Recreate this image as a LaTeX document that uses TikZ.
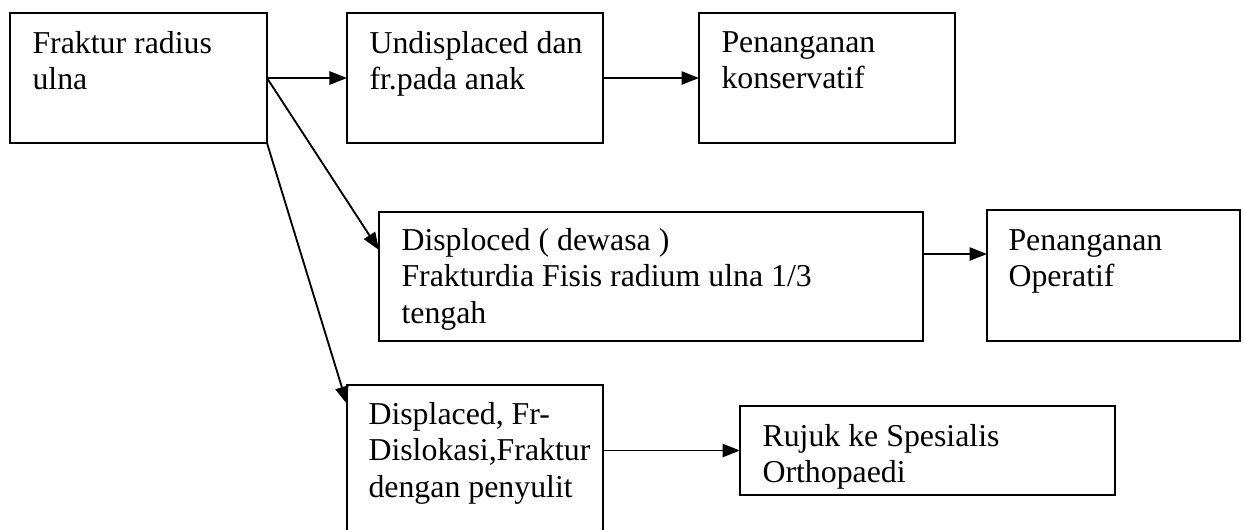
\documentclass[tikz,border=0pt]{standalone}
\usepackage{fontspec}
\setmainfont{Liberation Serif}
\usepackage{xcolor}
\definecolor{cLine}{HTML}{000000}
\usepackage{tikz}
\usetikzlibrary{positioning,arrows.meta,calc}
\tikzset{
  node-frame/.style={draw=cLine,line width=0.7pt,rectangle,inner sep=0pt,outer sep=0pt},
  node-size/.style 2 args={minimum width=#1*0.377pt,minimum height=#2*0.377pt},
  node-text/.style={anchor=north west,align=left,inner sep=0pt,
    font=\fontsize{12}{13.7}\selectfont},
  arrow/.style={-{Triangle[length=6.6pt,width=5pt]},line width=0.7pt,draw=cLine},
}

\begin{document}
\begin{tikzpicture}[x=0.377pt,y=-0.377pt]
  \clip (0,0) rectangle (1243,529);
  % kotak
  \node[node-frame,node-size={257}{130}] (fr)  at (138.5,78)  {};
  \node[node-frame,node-size={256}{130}] (und) at (475,78)    {};
  \node[node-frame,node-size={256}{130}] (kon) at (827,78)    {};
  \node[node-frame,node-size={544}{129}] (dis) at (651,276.5) {};
  \node[node-frame,node-size={253}{131}] (ope) at (1113.5,275.5) {};
  \node[node-frame,node-size={256}{180}] (dpl) at (475,475)   {};
  \node[node-frame,node-size={375}{89}]  (ruj) at (927.5,450.5) {};
  % teks
  \node[node-text] (fr-t)  at ($(fr.north west)+(22,18)$)  {Fraktur radius\\ulna};
  \node[node-text] (und-t) at ($(und.north west)+(22,18)$) {Undisplaced dan\\fr.pada anak};
  \node[node-text] (kon-t) at ($(kon.north west)+(22,18)$) {Penanganan\\konservatif};
  \node[node-text] (dis-t) at ($(dis.north west)+(22,16)$) {Disploced ( dewasa )\\Frakturdia Fisis radium ulna 1/3\\tengah};
  \node[node-text] (ope-t) at ($(ope.north west)+(21,19)$) {Penanganan\\Operatif};
  \node[node-text] (dpl-t) at ($(dpl.north west)+(21,17)$) {Displaced, Fr-\\Dislokasi,Fraktur\\dengan penyulit};
  \node[node-text] (ruj-t) at ($(ruj.north west)+(22,18)$) {Rujuk ke Spesialis\\Orthopaedi};
  % panah
  \draw[arrow] (fr.east) -- (und.west);
  \draw[arrow] (und.east) -- (kon.west);
  \draw[arrow] (fr.east) -- ($(dis.north west)+(0,38)$);
  \draw[arrow] (fr.south east) -- ($(dpl.north west)+(0,19)$);
  \draw[arrow] ($(dis.north east)+(0,42)$) coordinate (dis-o) -- (dis-o -| ope.west);
  \draw[arrow] (dpl.east |- ruj.west) -- (ruj.west);
\end{tikzpicture}
\end{document}
